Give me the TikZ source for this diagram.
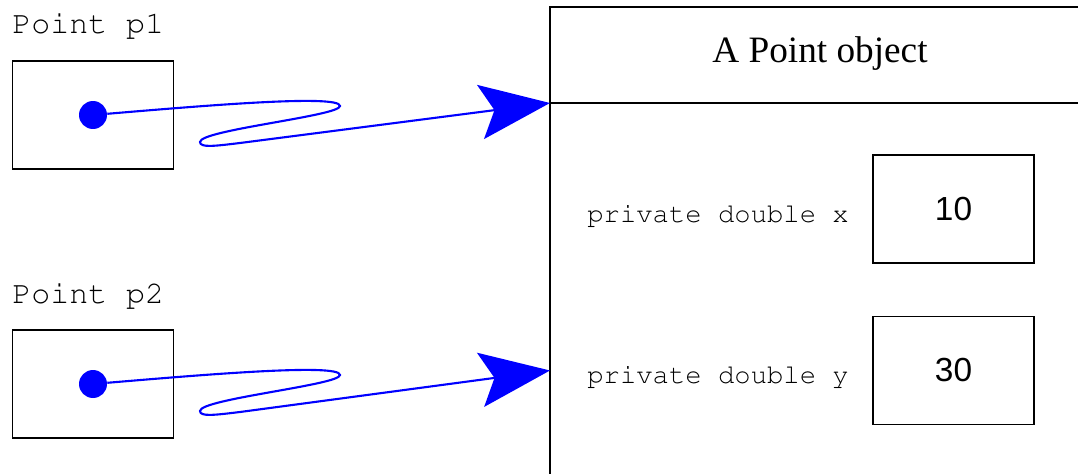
\documentclass[tikz,border=0pt]{standalone}
\usepackage[T1]{fontenc}
\usepackage{fontspec}
\setmainfont{Liberation Serif}
\setsansfont{Liberation Sans}
\newcommand{\courier}{\fontencoding{T1}\fontfamily{pcr}\selectfont}
\usepackage{tikz}
\usetikzlibrary{arrows.meta}
\tikzset{blob/.style = {fill=blue, circle, inner sep = 0, minimum size = 0.56cm}}
\tikzset{cell/.style = {draw, line width = 0.7pt, inner sep = 0, minimum width = 3.22cm, minimum height = 2.16cm}}
\tikzset{ref/.style = {blue, line width = 1.2pt, -{Stealth[length = 1.4cm, width = 1.09cm, inset = 0.28cm]}}}
\tikzset{varname/.style = {anchor = base west, inner sep = 0, font = \courier\fontsize{18}{20}\selectfont}}
\tikzset{field/.style = {anchor = base west, inner sep = 0, font = \courier\fontsize{15.5}{17}\selectfont}}

\begin{document}
\begin{tikzpicture}[x = 0.02cm, y = 0.02cm]
    \useasboundingbox (0, 0) rectangle (1078, 474);

    % the two references
    \node [varname] (p1name) at (12, 440) {Point p1};
    \node [cell] (p1box) at (93, 359) {};
    \node [blob] (p1dot) at (93, 359) {};

    \node [varname] (p2name) at (12, 171) {Point p2};
    \node [cell] (p2box) at (93, 90) {};
    \node [blob] (p2dot) at (93, 90) {};

    % the object
    \draw [line width = 0.7pt] (1078, 467) -- (550, 467) -- (550, 0);
    \coordinate (hdr) at (550, 371);
    \draw [line width = 0.7pt] (hdr) -- (1078, 371);
    \node [anchor = base, inner sep = 0, font = \fontsize{21.2}{24}\selectfont] (title) at (820, 411) {A Point object};

    \node [cell, font = \sffamily\fontsize{19}{21}\selectfont] (xval) at (953.5, 265) {10};
    \node [cell, font = \sffamily\fontsize{19}{21}\selectfont] (yval) at (953.5, 103.5) {30};
    \node [field] (xname) at (587, 252) {private double x};
    \node [field] (yname) at (587, 91) {private double y};

    \coordinate (tip2) at (hdr |- yval.west);

    \draw [ref] (p1dot) .. controls (200, 368) and (340, 380) .. (340, 368)
        .. controls (340, 358) and (200, 344) .. (200, 332)
        .. controls (200, 326) and (215, 328) .. (240, 331) -- (hdr);
    \draw [ref] (p2dot) .. controls (200, 99) and (340, 111) .. (340, 99)
        .. controls (340, 89) and (200, 75) .. (200, 63)
        .. controls (200, 57) and (215, 59) .. (240, 62) -- (tip2);
\end{tikzpicture}
\end{document}
